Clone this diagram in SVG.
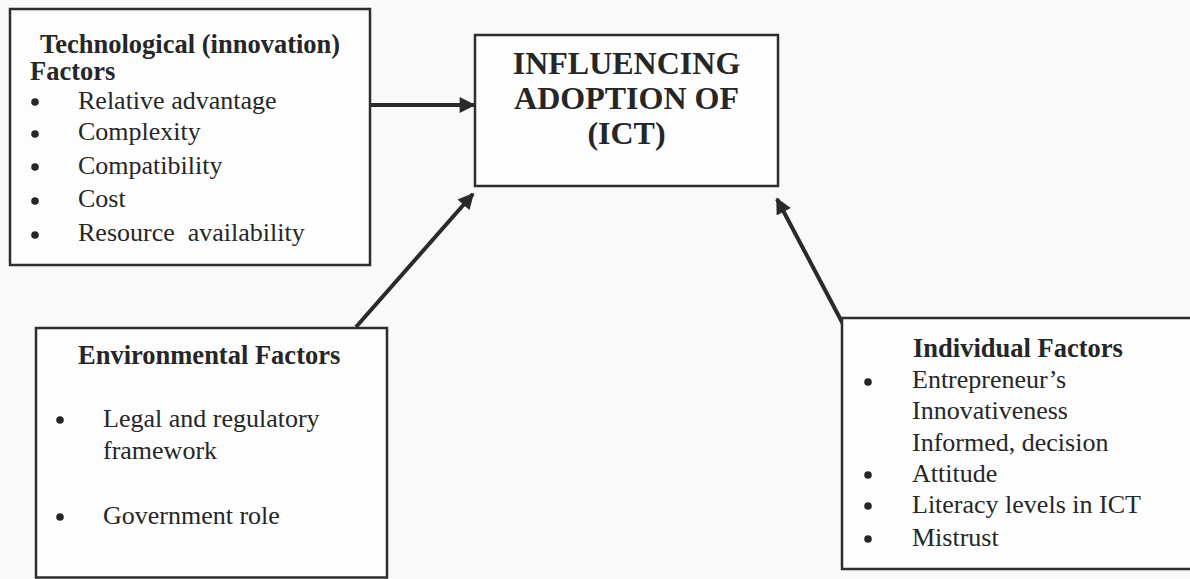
<svg xmlns="http://www.w3.org/2000/svg" width="1190" height="579" viewBox="0 0 1190 579">
<style>
.box{fill:#fdfdfd;stroke:#2e2e2e;stroke-width:2.5}
.t{font-family:"Liberation Serif","Times New Roman",serif;font-size:26px;fill:#262626}
.b{font-weight:bold;font-size:26.5px}
.h{font-family:"Liberation Serif","Times New Roman",serif;font-weight:bold;font-size:32px;fill:#262626;text-anchor:middle}
.dot{fill:#262626}
.c{stroke:#2a2a2a;stroke-width:4;fill:none;marker-end:url(#ah)}
</style>
<defs>
<marker id="ah" viewBox="0 0 10 10" refX="9" refY="5" markerWidth="4.2" markerHeight="4" markerUnits="strokeWidth" orient="auto">
<path d="M0,0 L10,5 L0,10 z" fill="#2a2a2a"/>
</marker>
</defs>
<rect width="1190" height="579" fill="#f9f9f9"/>
<g id="connectors">
<line class="c" x1="371" y1="105" x2="474" y2="105"/>
<line class="c" x1="356" y1="327" x2="473" y2="194"/>
<line class="c" x1="843" y1="324" x2="777" y2="199"/>
</g>
<g id="tech">
<rect class="box" x="10" y="9" width="360" height="256"/>
<text class="t b" x="40" y="53">Technological (innovation)</text>
<text class="t b" x="30" y="80">Factors</text>
<circle class="dot" cx="35" cy="102" r="3.8"/>
<text class="t" x="78" y="109">Relative advantage</text>
<circle class="dot" cx="35" cy="134" r="3.8"/>
<text class="t" x="78" y="140">Complexity</text>
<circle class="dot" cx="35" cy="167" r="3.8"/>
<text class="t" x="78" y="174">Compatibility</text>
<circle class="dot" cx="35" cy="201" r="3.8"/>
<text class="t" x="78" y="207">Cost</text>
<circle class="dot" cx="35" cy="235" r="3.8"/>
<text class="t" x="78" y="241" xml:space="preserve">Resource  availability</text>
</g>
<g id="adoption">
<rect class="box" x="475" y="35" width="303" height="151"/>
<text class="h" x="626.5" y="74">INFLUENCING</text>
<text class="h" x="626.5" y="109">ADOPTION OF</text>
<text class="h" x="626.5" y="144">(ICT)</text>
</g>
<g id="environmental">
<rect class="box" x="36" y="328" width="351" height="249.5"/>
<text class="t b" x="78" y="364">Environmental Factors</text>
<circle class="dot" cx="60" cy="420" r="3.8"/>
<text class="t" x="103" y="427">Legal and regulatory</text>
<text class="t" x="103" y="459">framework</text>
<circle class="dot" cx="60" cy="517" r="3.8"/>
<text class="t" x="103" y="524">Government role</text>
</g>
<g id="individual">
<rect class="box" x="842" y="318" width="360" height="251"/>
<text class="t b" x="913" y="357">Individual Factors</text>
<circle class="dot" cx="868" cy="382" r="3.8"/>
<text class="t" x="912" y="388">Entrepreneur’s</text>
<text class="t" x="912" y="419">Innovativeness</text>
<text class="t" x="912" y="451">Informed, decision</text>
<circle class="dot" cx="868" cy="475" r="3.8"/>
<text class="t" x="912" y="482">Attitude</text>
<circle class="dot" cx="868" cy="506" r="3.8"/>
<text class="t" x="912" y="513">Literacy levels in ICT</text>
<circle class="dot" cx="868" cy="539" r="3.8"/>
<text class="t" x="912" y="546">Mistrust</text>
</g>
</svg>
